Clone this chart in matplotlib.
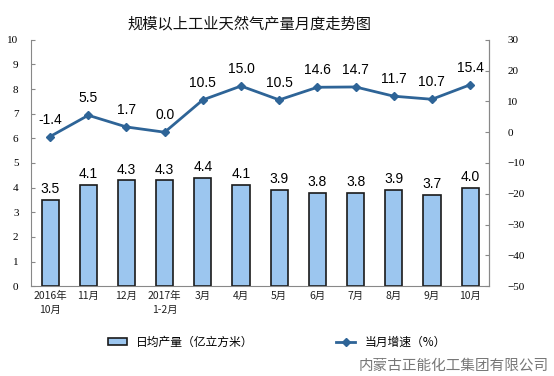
import matplotlib.pyplot as plt
import numpy as np

plt.rcParams['font.family'] = ['Noto Sans CJK SC', 'DejaVu Sans']

months = ['2016年\n10月', '11月', '12月', '2017年\n1-2月', '3月', '4月', '5月',
          '6月', '7月', '8月', '9月', '10月']
daily_output = [3.5, 4.1, 4.3, 4.3, 4.4, 4.1, 3.9, 3.8, 3.8, 3.9, 3.7, 4.0]
growth = [-1.4, 5.5, 1.7, 0.0, 10.5, 15.0, 10.5, 14.6, 14.7, 11.7, 10.7, 15.4]

fig = plt.figure(figsize=(5.54, 3.76), dpi=100)
ax = fig.add_axes([0.056, 0.239, 0.827, 0.655])
x = np.arange(len(months))

bars = ax.bar(x, daily_output, width=0.45, color='#9cc6ef', edgecolor='#1a1a1a',
              linewidth=1.2, zorder=2, label='日均产量（亿立方米）')
for xi, v in zip(x, daily_output):
    ax.text(xi, v + 0.15, f'{v:.1f}', ha='center', va='bottom', fontsize=10,
            family=['Liberation Sans'])

ax.set_xlim(-0.5, len(months) - 0.5)
ax.set_ylim(0, 10)
ax.set_yticks(range(0, 11))
ax.set_xticks(x)
ax.set_xticklabels(months, fontsize=7.5, color='#222222', linespacing=1.5)
for lbl in ax.get_yticklabels():
    lbl.set_family(['Liberation Serif'])
    lbl.set_fontsize(8)
ax.tick_params(axis='y', direction='in', length=3, pad=9, color='#888888')
ax.tick_params(axis='x', direction='in', length=3, color='#888888')
ax.spines['top'].set_visible(False)
ax.spines['left'].set_color('#888888')
ax.spines['bottom'].set_color('#888888')
ax.spines['right'].set_color('#888888')

ax2 = ax.twinx()
ax2.plot(x, growth, color='#2e6497', linewidth=2, marker='D', markersize=4.5,
         zorder=3, label='当月增速（%）')
for xi, v in zip(x, growth):
    ax2.text(xi, v + 3.2, f'{v:.1f}', ha='center', va='bottom', fontsize=10,
             family=['Liberation Sans'])
ax2.set_ylim(-50, 30)
ax2.set_yticks(range(-50, 31, 10))
for lbl in ax2.get_yticklabels():
    lbl.set_family(['Liberation Serif'])
    lbl.set_fontsize(8)
ax2.tick_params(axis='y', direction='in', length=3, pad=13, color='#888888')
ax2.spines['top'].set_visible(False)
ax2.spines['right'].set_color('#888888')
ax2.spines['left'].set_visible(False)
ax2.spines['bottom'].set_visible(False)

fig.text(0.45, 0.935, '规模以上工业天然气产量月度走势图', ha='center', va='center',
         fontsize=11, color='#111111')

fig.legend(handles=[bars, ax2.lines[0]], loc='center', bbox_to_anchor=(0.5, 0.09),
           ncol=2, frameon=False, fontsize=8.5, columnspacing=7, handlelength=1.6,
           handleheight=0.6)

fig.text(0.99, 0.028, '内蒙古正能化工集团有限公司', ha='right', va='center',
         fontsize=10.5, color='#555555', alpha=0.8)

fig.savefig('out.png', dpi=100)
